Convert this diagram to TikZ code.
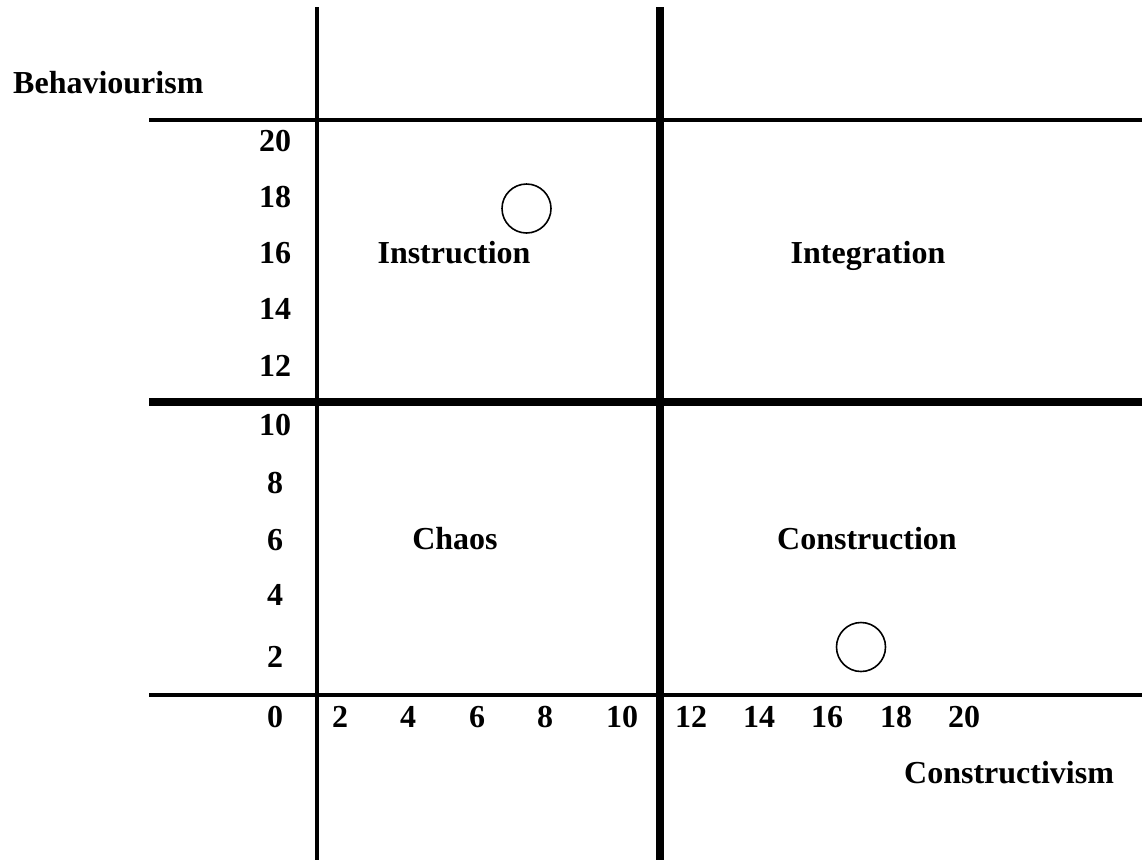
\documentclass[tikz,border=0pt]{standalone}
\usepackage{fontspec}
\setmainfont{Liberation Serif}
\begin{document}
\begin{tikzpicture}[x=1pt,y=-1pt,
  thinline/.style={line width=4pt},
  thickline/.style={line width=8pt},
  lbl/.style={inner sep=0pt,anchor=base,font=\fontsize{32}{38}\selectfont\bfseries},
  marker/.style={draw,circle,line width=1.6pt,minimum size=49pt,inner sep=0pt}]
\useasboundingbox (0,0) rectangle (1142,860);
% grid lines
\draw[thinline] (317,7) -- (317,860);
\draw[thickline] (660,7) -- (660,860);
\draw[thinline] (149,120) -- (1142,120);
\draw[thickline] (149,402) -- (1142,402);
\draw[thinline] (149,695) -- (1142,695);
% axis titles
\node[lbl,anchor=base west] (beh) at (13,93) {Behaviourism};
\node[lbl,anchor=base west] (con) at (904,783) {Constructivism};
% y labels
\node[lbl] (y20) at (275,151) {20};
\node[lbl] (y18) at (275,207) {18};
\node[lbl] (y16) at (275,263) {16};
\node[lbl] (y14) at (275,319) {14};
\node[lbl] (y12) at (275,376) {12};
\node[lbl] (y10) at (275,435) {10};
\node[lbl] (y8) at (275,493) {8};
\node[lbl] (y6) at (275,550) {6};
\node[lbl] (y4) at (275,605) {4};
\node[lbl] (y2) at (275,667) {2};
\node[lbl] (y0) at (275,727) {0};
% x labels
\node[lbl] (x2) at (340,727) {2};
\node[lbl] (x4) at (408,727) {4};
\node[lbl] (x6) at (477,727) {6};
\node[lbl] (x8) at (545,727) {8};
\node[lbl] (x10) at (622,727) {10};
\node[lbl] (x12) at (691,727) {12};
\node[lbl] (x14) at (759,727) {14};
\node[lbl] (x16) at (827,727) {16};
\node[lbl] (x18) at (896,727) {18};
\node[lbl] (x20) at (964,727) {20};
% quadrant labels
\node[lbl] (instr) at (454,263) {Instruction};
\node[lbl] (integ) at (868,263) {Integration};
\node[lbl] (chaos) at (455,549) {Chaos};
\node[lbl] (constr) at (867,549) {Construction};
% circles
\node[marker] (c1) at (526.5,208.5) {};
\node[marker] (c2) at (861,647) {};
\end{tikzpicture}
\end{document}
